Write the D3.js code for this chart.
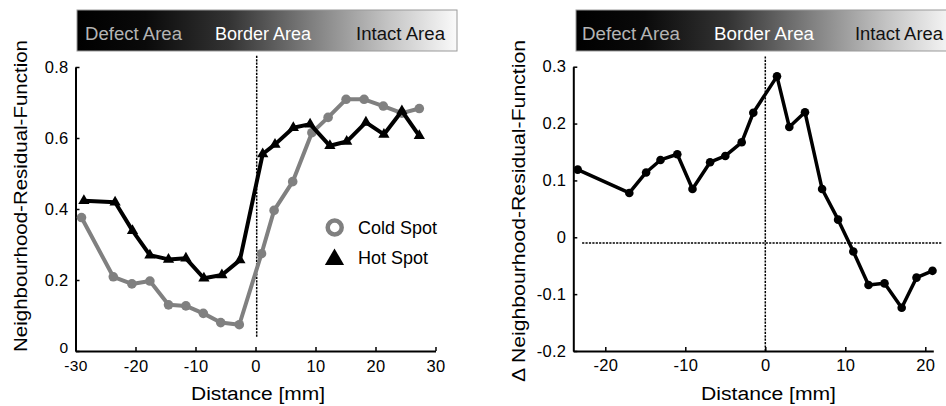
<!DOCTYPE html>
<html><head><meta charset="utf-8">
<script src="https://cdn.jsdelivr.net/npm/d3@7"></script>
<style>
html,body{margin:0;padding:0;background:#fff;}
svg{display:block;font-family:"Liberation Sans",Arial,Helvetica,sans-serif;}
</style></head>
<body>
<svg id="chart" width="946" height="406"></svg>
<script>
// ---------- data ----------
const coldX = [-29.0,-23.7,-20.6,-17.6,-14.5,-11.6,-8.7,-5.8,-2.7,1.0,3.1,6.2,9.4,12.1,15.1,18.1,21.3,24.4,27.3];
const coldY = [0.376,0.209,0.189,0.197,0.130,0.127,0.106,0.080,0.074,0.274,0.396,0.477,0.615,0.658,0.709,0.709,0.690,0.670,0.683];
const hotX  = [-28.6,-23.4,-20.5,-17.6,-14.5,-11.6,-8.6,-5.6,-2.6,1.2,3.25,6.3,9.1,12.4,15.2,18.4,21.4,24.4,27.3];
const hotY  = [0.423,0.419,0.339,0.270,0.258,0.261,0.205,0.214,0.256,0.555,0.582,0.629,0.639,0.578,0.590,0.644,0.610,0.676,0.606];
const deltaX = [-23.45,-17.0,-14.9,-13.1,-11.0,-9.1,-6.9,-5.0,-2.95,-1.5,1.46,3.0,4.96,7.1,9.1,11.0,12.9,14.9,17.05,18.9,20.9];
const deltaY = [0.119,0.078,0.114,0.136,0.146,0.085,0.132,0.143,0.167,0.219,0.283,0.194,0.220,0.085,0.031,-0.025,-0.084,-0.081,-0.124,-0.071,-0.059];

const leftXTicks = [-30,-20,-10,0,10,20,30];
const leftXTickLabels = ["-30","-20","-10","0","10","20","30"];
const leftYTicks = [0,0.2,0.4,0.6,0.8];
const leftYTickLabels = ["0","0.2","0.4","0.6","0.8"];
const rightXTicks = [-20,-10,0,10,20];
const rightXTickLabels = ["-20","-10","0","10","20"];
const rightYTicks = [-0.2,-0.1,0,0.1,0.2,0.3];
const rightYTickLabels = ["-0.2","-0.1","0","0.1","0.2","0.3"];
const areaLabels = ["Defect Area","Border Area","Intact Area"];
const seriesNames = ["Cold Spot","Hot Spot"];
const leftYTitle = "Neighbourhood-Residual-Function";
const rightYTitle = "\u0394 Neighbourhood-Residual-Function";
const xTitle = "Distance [mm]";
const leftRefX = 0.2;     // dashed border marker, left panel
const rightRefX = 0;      // dashed border marker, right panel
const rightRefY = -0.01;  // dashed zero line, right panel

// ---------- setup ----------
const svg = d3.select("#chart");
svg.append("rect").attr("width",946).attr("height",406).attr("fill","#fff");
const defs = svg.append("defs");
const grad = defs.append("linearGradient").attr("id","areaGrad").attr("x1","0%").attr("x2","100%");
[[0,"#000"],[0.18,"#0a0a0a"],[0.4,"#333"],[0.62,"#808080"],[0.82,"#c4c4c4"],[1,"#fafafa"]]
  .forEach(s=>grad.append("stop").attr("offset",s[0]).attr("stop-color",s[1]));

const xL = d3.scaleLinear().domain([-30,30]).range([75.5,435.5]);
const yL = d3.scaleLinear().domain([0,0.8]).range([351,67]);
const xR = d3.scaleLinear().domain([-24,21]).range([573.3,933.3]);
const yR = d3.scaleLinear().domain([-0.2,0.3]).range([351,66.7]);

function header(x0, labelsPos){
  svg.append("rect").attr("x",x0).attr("y",10).attr("width",380).attr("height",41)
    .attr("fill","url(#areaGrad)").attr("stroke","#9a9a9a").attr("stroke-width",1);
  const cols = ["#b4b4b4","#ffffff","#111111"];
  areaLabels.forEach((t,i)=>{
    svg.append("text").attr("x",labelsPos[i][0]).attr("y",40)
      .attr("font-size",17.5).attr("fill",cols[i])
      .attr("textLength",labelsPos[i][1]).attr("lengthAdjust","spacingAndGlyphs")
      .text(t);
  });
}
header(77, [[85,97],[215,96],[356,89]]);
header(576, [[582,98],[714,100],[855,88]]);

function styleAxis(g){
  g.select(".domain").attr("stroke","#000").attr("stroke-width",2);
  g.selectAll(".tick line").attr("stroke","#000").attr("stroke-width",1.5);
  g.selectAll(".tick text").attr("font-size",16.5).attr("fill","#000")
    .attr("font-family","'Liberation Sans',Arial,sans-serif").attr("letter-spacing","0.3px");
}

const dash = "2.2,1.2";

// ---------- left panel ----------
const gLx = svg.append("g").attr("transform","translate(0,351)")
  .call(d3.axisBottom(xL).tickValues(leftXTicks).tickSizeInner(-4).tickSizeOuter(0).tickPadding(9)
  .tickFormat((d,i)=>leftXTickLabels[i]));
styleAxis(gLx);
const gLy = svg.append("g").attr("transform","translate(75.5,0)")
  .call(d3.axisLeft(yL).tickValues(leftYTicks).tickSizeInner(-4).tickSizeOuter(0).tickPadding(7)
  .tickFormat((d,i)=>leftYTickLabels[i]));
styleAxis(gLy);
// the corner "0" sits just above the "-30" label, as in the reference
gLy.selectAll(".tick text").filter(d=>d===0).attr("dy","0.1em").attr("font-size",15.5);
gLx.selectAll(".tick text").filter(d=>d===-30).attr("font-size",15.5);

// dashed border line
svg.append("line").attr("x1",xL(leftRefX)).attr("x2",xL(leftRefX))
  .attr("y1",yL(0.04)).attr("y2",yL(0.835))
  .attr("stroke","#000").attr("stroke-width",1.5).attr("stroke-dasharray",dash);

const lineL = d3.line().x(d=>xL(d[0])).y(d=>yL(d[1]));
const coldPts = coldX.map((x,i)=>[x,coldY[i]]);
const hotPts = hotX.map((x,i)=>[x,hotY[i]]);

svg.append("path").datum(coldPts).attr("d",lineL).attr("fill","none")
  .attr("stroke","#808080").attr("stroke-width",4).attr("stroke-linejoin","round");
svg.selectAll(".cold").data(coldPts).enter().append("circle")
  .attr("cx",d=>xL(d[0])).attr("cy",d=>yL(d[1])).attr("r",4.8).attr("fill","#808080");

svg.append("path").datum(hotPts).attr("d",lineL).attr("fill","none")
  .attr("stroke","#000").attr("stroke-width",4).attr("stroke-linejoin","round");
const tri = d3.symbol().type(d3.symbolTriangle);
svg.selectAll(".hot").data(hotPts).enter().append("path")
  .attr("d",tri.size(55)()).attr("transform",d=>`translate(${xL(d[0])},${yL(d[1])})`).attr("fill","#000");

// legend
svg.append("circle").attr("cx",334.7).attr("cy",227.5).attr("r",7).attr("fill","#fff")
  .attr("stroke","#808080").attr("stroke-width",4.5);
svg.append("path").attr("d",tri.size(160)()).attr("transform","translate(334.5,259.5)").attr("fill","#000");
svg.append("text").attr("x",358).attr("y",234).attr("font-size",18).text(seriesNames[0]);
svg.append("text").attr("x",358).attr("y",264).attr("font-size",18).text(seriesNames[1]);

// titles
svg.append("text").attr("transform","translate(27,196) rotate(-90)").attr("text-anchor","middle")
  .attr("font-size",18).attr("textLength",312).attr("lengthAdjust","spacingAndGlyphs").text(leftYTitle);
svg.append("text").attr("x",258).attr("y",400).attr("text-anchor","middle")
  .attr("font-size",18).attr("textLength",134).attr("lengthAdjust","spacingAndGlyphs").text(xTitle);

// ---------- right panel ----------
const gRx = svg.append("g").attr("transform","translate(0,351)")
  .call(d3.axisBottom(xR).tickValues(rightXTicks).tickSizeInner(-4).tickSizeOuter(0).tickPadding(8)
  .tickFormat((d,i)=>rightXTickLabels[i]));
styleAxis(gRx);
const gRy = svg.append("g").attr("transform","translate(573.3,0)")
  .call(d3.axisLeft(yR).tickValues(rightYTicks).tickSizeInner(-4).tickSizeOuter(0).tickPadding(7)
  .tickFormat((d,i)=>rightYTickLabels[i]));
styleAxis(gRy);

svg.append("line").attr("x1",xR(rightRefX)).attr("x2",xR(rightRefX))
  .attr("y1",yR(-0.2)).attr("y2",yR(0.318))
  .attr("stroke","#000").attr("stroke-width",1.5).attr("stroke-dasharray",dash);
svg.append("line").attr("x1",xR(-22.9)).attr("x2",xR(22.1))
  .attr("y1",yR(rightRefY)).attr("y2",yR(rightRefY))
  .attr("stroke","#000").attr("stroke-width",1.5).attr("stroke-dasharray",dash);

const lineR = d3.line().x(d=>xR(d[0])).y(d=>yR(d[1]));
const deltaPts = deltaX.map((x,i)=>[x,deltaY[i]]);
svg.append("path").datum(deltaPts).attr("d",lineR).attr("fill","none")
  .attr("stroke","#000").attr("stroke-width",3.5).attr("stroke-linejoin","round");
svg.selectAll(".delta").data(deltaPts).enter().append("circle")
  .attr("cx",d=>xR(d[0])).attr("cy",d=>yR(d[1])).attr("r",4.3).attr("fill","#000");

svg.append("text").attr("transform","translate(525,211) rotate(-90)").attr("text-anchor","middle")
  .attr("font-size",18).attr("textLength",342).attr("lengthAdjust","spacingAndGlyphs").text(rightYTitle);
svg.append("text").attr("x",768.5).attr("y",400).attr("text-anchor","middle")
  .attr("font-size",18).attr("textLength",135).attr("lengthAdjust","spacingAndGlyphs").text(xTitle);
</script>
</body></html>
